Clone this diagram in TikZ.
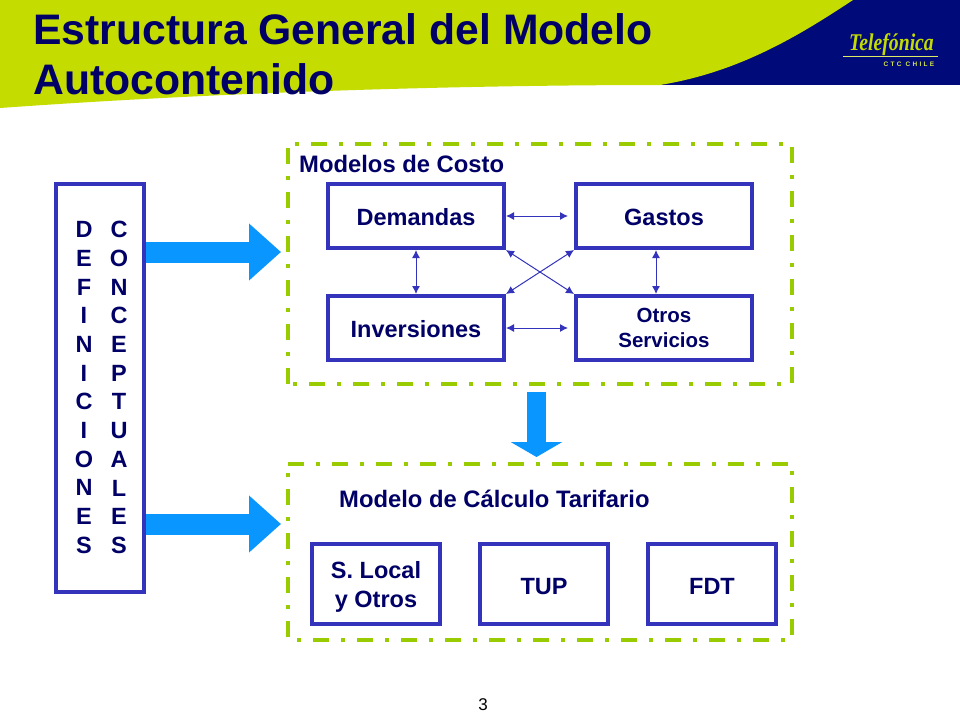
\documentclass[tikz,border=0pt]{standalone}
\usepackage{fontspec}
\setmainfont{Liberation Sans}
\newfontfamily\logofont{Liberation Serif}
\usetikzlibrary{arrows.meta, positioning}
\definecolor{lima}{HTML}{C4DC00}
\definecolor{marino}{HTML}{000A78}
\definecolor{tinta}{HTML}{000066}
\definecolor{borde}{HTML}{3333BB}
\definecolor{celeste}{HTML}{0A96FF}
\definecolor{trazo}{HTML}{99CC00}
\tikzset{
    caja/.style={draw=borde, line width=4pt, fill=white, minimum width=176pt, minimum height=64pt, inner sep=0pt, align=center, text=tinta, font=\fontsize{23.5}{28}\bfseries},
    marco/.style={draw=trazo, line width=4pt, dash pattern=on 16pt off 12pt on 4pt off 12pt},
    rotulo/.style={anchor=base west, inner sep=0pt, text=tinta, font=\fontsize{23.8}{28}\bfseries},
    letras/.style={inner sep=0pt, align=center, text=tinta, font=\fontsize{23.5}{28.7}\bfseries},
    enlace/.style={draw=borde, line width=1pt, {Latex[length=8pt,width=8pt]}-{Latex[length=8pt,width=8pt]}},
    flecha/.style={draw=celeste, line width=21pt, -{Triangle[length=32pt,width=55pt]}},
    flechita/.style={draw=celeste, line width=19pt, -{Triangle[length=15pt,width=51pt]}}
}

\begin{document}
\begin{tikzpicture}[x=1pt,y=-1pt]
    \useasboundingbox (0,0) rectangle (960,720);
    \fill[white] (0,0) rectangle (960,720);
    % cabecera
    \fill[marino] (650,0) rectangle (960,85);
    \fill[lima] (0,0) -- (853,0) .. controls (800,35) and (740,72) .. (660,85) .. controls (500,85) and (250,90) .. (0,108) -- cycle;
    \node[anchor=base west, inner sep=0pt, text=tinta, align=left, font=\fontsize{42.7}{50}\bfseries] (titulo) at (33,94) {Estructura General del Modelo\\Autocontenido};
    \node[anchor=base, inner sep=0pt, text=lima, xscale=0.82, font=\logofont\fontsize{24}{24}\bfseries\itshape] (logo) at (891.5,50) {Telefónica};
    \draw[lima!60!white, line width=0.8pt] (843,56) -- (938,56);
    \node[anchor=base, inner sep=0pt, text=lima!70!white, font=\fontsize{6.5}{8}\bfseries] (filial) at (909,66) {\addfontfeature{LetterSpace=35}CTC CHILE};
    % marcos
    \node[minimum width=504pt, minimum height=240pt, inner sep=0pt] (costo) at (540,264) {};
    \node[minimum width=504pt, minimum height=176pt, inner sep=0pt] (tarifa) at (540,552) {};
    \draw[marco] (costo.south west) -- (costo.north west) -- (costo.north east) -- (costo.south east) -- cycle;
    \draw[marco] (tarifa.north west) -- (tarifa.north east) -- (tarifa.south east) -- (tarifa.south west) -- cycle;
    \node[rotulo] (tcosto) at (299,172) {Modelos de Costo};
    \node[rotulo] (ttarifa) at (339,507.5) {Modelo de Cálculo Tarifario};
    % columna izquierda
    \node[caja, minimum width=88pt, minimum height=408pt] (defs) at (100,388) {};
    \node[letras] (defa) at (84,387.5) {D\\E\\F\\I\\N\\I\\C\\I\\O\\N\\E\\S};
    \node[letras] (defb) at (119,387.5) {C\\O\\N\\C\\E\\P\\T\\U\\A\\L\\E\\S};
    % modelos de costo
    \node[caja, text height=19pt] (demandas) at (416,216) {Demandas};
    \node[caja, text height=19pt] (gastos) at (664,216) {Gastos};
    \node[caja, text height=19pt] (inversiones) at (416,328) {Inversiones};
    \node[caja, font=\fontsize{20.5}{25}\bfseries] (otros) at (664,328) {Otros\\Servicios};
    % modelo tarifario
    \node[caja, minimum width=128pt, minimum height=80pt, font=\fontsize{23.5}{29}\bfseries] (local) at (376,584) {\rule{0pt}{23pt}S. Local\\y Otros};
    \node[caja, minimum width=128pt, minimum height=80pt, text height=21pt] (tup) at (544,584) {TUP};
    \node[caja, minimum width=128pt, minimum height=80pt, text height=21pt] (fdt) at (712,584) {FDT};
    % enlaces
    \draw[enlace, shorten >=6pt] (demandas) -- (gastos);
    \draw[enlace, shorten >=6pt] (inversiones) -- (otros);
    \draw[enlace] (demandas) -- (inversiones);
    \draw[enlace] ([xshift=-8pt]gastos.south) -- ([xshift=-8pt]otros.north);
    \draw[enlace] (demandas.south east) -- (otros.north west);
    \draw[enlace] (gastos.south west) -- (inversiones.north east);
    % flechas grandes
    \coordinate (puntaa) at (281,252);
    \coordinate (puntab) at (281,524);
    \coordinate (puntac) at (536.5,457);
    \coordinate (origenc) at (536.5,392);
    \draw[flecha] (defs.east |- puntaa) -- (puntaa);
    \draw[flecha] (defs.east |- puntab) -- (puntab);
    \draw[flechita] (origenc) -- (puntac);
    % pagina
    \node[anchor=base, inner sep=0pt, font=\fontsize{17}{20}\selectfont] (pagina) at (483,710) {3};
\end{tikzpicture}
\end{document}
